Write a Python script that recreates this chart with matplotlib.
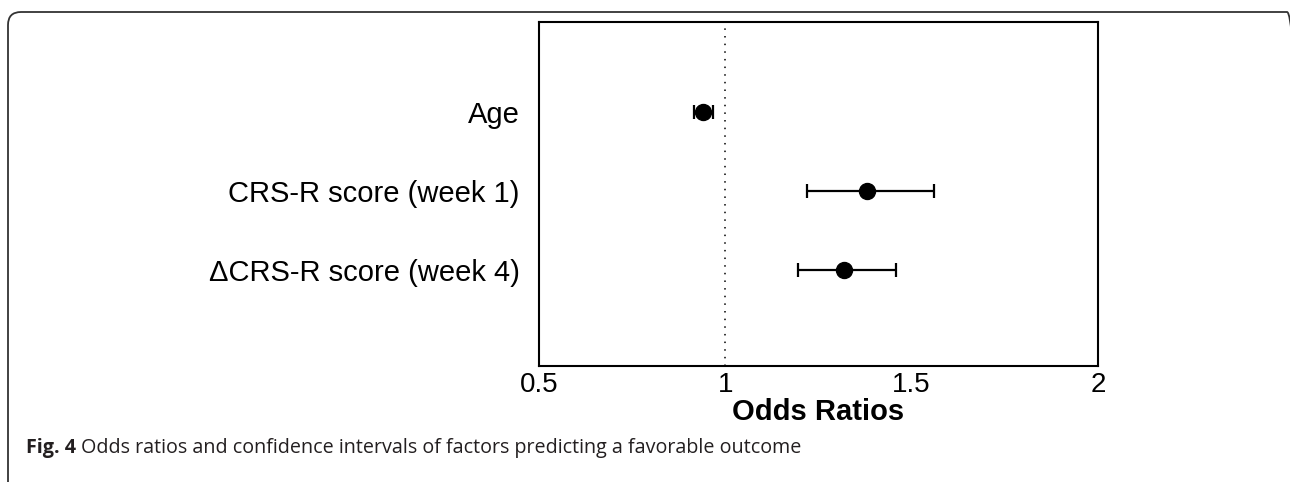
import matplotlib.pyplot as plt
from matplotlib.patches import FancyBboxPatch

# data
factors = ["Age", "CRS-R score (week 1)", "\u0394CRS-R score (week 4)"]
odds = [0.941, 1.380, 1.318]
ci_low = [0.916, 1.219, 1.195]
ci_high = [0.968, 1.560, 1.458]
xticks = [0.5, 1, 1.5, 2]
xtick_labels = ["0.5", "1", "1.5", "2"]

plt.rcParams['font.family'] = ['Liberation Sans', 'DejaVu Sans']

fig = plt.figure(figsize=(12.9, 4.82), dpi=100)

# outer rounded frame of the figure panel (runs off the right and bottom edges)
W, H = 1290, 482
frame = FancyBboxPatch((8 / W, -0.2), (1300 - 8) / W, (1 - 12 / H) + 0.2,
                       boxstyle="round,pad=0,rounding_size=%f" % (13 / W),
                       transform=fig.transFigure, fill=False,
                       edgecolor='#333333', linewidth=1.3, mutation_aspect=W / H)
fig.patches.append(frame)

ax = fig.add_axes([539 / W, 1 - 366 / H, (1098 - 539) / W, (366 - 22) / H])

ypos = [3, 2, 1]
xerr = [[o - l for o, l in zip(odds, ci_low)], [h - o for o, h in zip(odds, ci_high)]]
ax.errorbar(odds, ypos, xerr=xerr, fmt='o', color='black', ecolor='black',
            markersize=11.5, elinewidth=1.6, capsize=5, capthick=1.6)
ax.axvline(1, color='black', linestyle=(0, (1, 4)), linewidth=1.1)

ax.set_xlim(0.5, 2)
ax.set_ylim(-0.21, 4.14)
ax.set_xticks(xticks)
ax.set_xticklabels(xtick_labels, fontsize=20)
ax.set_yticks(ypos)
ax.set_yticklabels(factors, fontsize=21)
ax.tick_params(axis='both', length=0)
ax.tick_params(axis='y', pad=14)
ax.tick_params(axis='x', pad=4)
ax.set_xlabel("Odds Ratios", fontsize=21, fontweight='bold', labelpad=0)
for s in ax.spines.values():
    s.set_linewidth(1.5)

# caption: bold "Fig. 4" followed by the regular text
cap_y = 1 - 448 / H
cap_font = ['Open Sans', 'DejaVu Sans']
t1 = fig.text(26 / W, cap_y, "Fig. 4", fontsize=14.2, fontweight='bold',
              family=cap_font, color='#231f20', va='center')
fig.canvas.draw()
x_end = t1.get_window_extent().x1 / W
fig.text(x_end + 5 / W, cap_y,
         "Odds ratios and confidence intervals of factors predicting a favorable outcome",
         fontsize=14.2, family=cap_font, color='#231f20', va='center')

fig.savefig("out.png", dpi=100)
